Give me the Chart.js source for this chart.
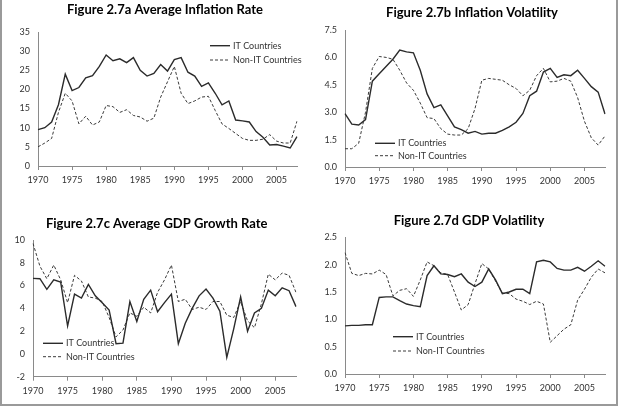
<!DOCTYPE html>
<html>
<head>
<meta charset="utf-8">
<script src="https://cdn.jsdelivr.net/npm/chart.js@4.4.1/dist/chart.umd.min.js"></script>
<style>
  html, body { margin: 0; padding: 0; background: #fff; }
  #page { position: relative; width: 620px; height: 407px; overflow: hidden; }
  #frame { position: absolute; left: 0; top: -4px; width: 614px; height: 406px; border: 2px solid #9a9a9a; }
  .panel { position: absolute; }
</style>
</head>
<body>
<div id="page">
  <div id="frame"></div>
  <div class="panel" style="left:0;top:0;width:310px;height:200px"><canvas id="chartA"></canvas></div>
  <div class="panel" style="left:310px;top:0;width:310px;height:200px"><canvas id="chartB"></canvas></div>
  <div class="panel" style="left:0;top:200px;width:310px;height:207px"><canvas id="chartC"></canvas></div>
  <div class="panel" style="left:310px;top:200px;width:310px;height:207px"><canvas id="chartD"></canvas></div>
</div>
<script>
const years = ['1970','1971','1972','1973','1974','1975','1976','1977','1978','1979',
               '1980','1981','1982','1983','1984','1985','1986','1987','1988','1989',
               '1990','1991','1992','1993','1994','1995','1996','1997','1998','1999',
               '2000','2001','2002','2003','2004','2005','2006','2007','2008'];

// Figure 2.7a Average Inflation Rate
const inflationIT = [9.5, 10, 11.5, 16, 24, 19.7, 20.5, 23, 23.6, 26,
                     29, 27.5, 28, 27, 28.3, 25, 23.5, 24.2, 26.5, 24.8,
                     27.8, 28.3, 24.5, 23.5, 20.8, 21.7, 19, 16, 17, 12,
                     11.8, 11.5, 9, 7.5, 5.5, 5.6, 5.2, 4.7, 7.7];
const inflationNonIT = [5, 6, 7.2, 14, 19, 17, 11, 13, 10.7, 11.5,
                        15.8, 15.5, 14, 14.7, 13.2, 12.8, 11.7, 12.5, 18, 22,
                        26, 19, 16.3, 17, 18, 18.2, 14.5, 11, 9.8, 8.5,
                        7.2, 6.7, 6.7, 7, 8.2, 6.5, 6, 6, 11.7];

// Figure 2.7b Inflation Volatility
const inflVolIT = [2.92, 2.35, 2.3, 2.6, 4.7, 5.1, 5.5, 5.9, 6.4, 6.3,
                   6.25, 5.3, 4.0, 3.25, 3.4, 2.8, 2.2, 2.05, 1.85, 1.95,
                   1.8, 1.85, 1.85, 2.0, 2.2, 2.45, 2.93, 3.9, 4.15, 5.2,
                   5.4, 4.9, 5.05, 5.0, 5.3, 4.85, 4.4, 4.1, 2.9];
const inflVolNonIT = [1.0, 1.0, 1.3, 3.0, 5.4, 6.05, 6.0, 5.9, 5.3, 4.6,
                      4.2, 3.5, 2.7, 2.65, 2.1, 1.8, 1.75, 1.75, 2.1, 3.2,
                      4.75, 4.85, 4.8, 4.75, 4.5, 4.3, 3.9, 4.2, 5.0, 5.4,
                      4.66, 4.7, 4.85, 4.7, 3.8, 2.5, 1.6, 1.2, 1.7];

// Figure 2.7c Average GDP Growth Rate
const gdpIT = [6.63, 6.6, 5.67, 6.5, 6.3, 2.45, 5.25, 4.9, 6.1, 5.1,
               4.5, 3.85, 0.9, 0.95, 4.6, 2.85, 4.8, 5.6, 3.7, 4.5,
               5.25, 0.9, 2.7, 4.0, 5.1, 5.7, 4.9, 3.75, -0.3, 2.2,
               5.0, 2.0, 3.6, 4.0, 5.6, 5.1, 5.8, 5.55, 4.15];
const gdpNonIT = [9.7, 7.7, 6.6, 7.8, 6.5, 4.5, 6.9, 6.4, 5.0, 4.9,
                  4.6, 3.2, 1.5, 2.1, 3.6, 3.3, 4.1, 3.6, 5.4, 6.5,
                  7.8, 4.6, 4.8, 3.9, 4.1, 3.9, 4.6, 4.6, 3.4, 3.2,
                  4.6, 2.9, 2.3, 4.4, 7.0, 6.5, 7.1, 6.9, 5.4];

// Figure 2.7d GDP Volatility
const gdpVolIT = [0.88, 0.89, 0.89, 0.9, 0.9, 1.4, 1.41, 1.41, 1.34, 1.28,
                  1.25, 1.23, 1.8, 1.98, 1.83, 1.82, 1.78, 1.83, 1.68, 1.6,
                  1.68, 1.92, 1.72, 1.47, 1.5, 1.55, 1.55, 1.47, 2.05, 2.08,
                  2.05, 1.93, 1.9, 1.9, 1.95, 1.88, 1.97, 2.07, 1.97];
const gdpVolNonIT = [2.22, 1.84, 1.8, 1.84, 1.83, 1.9, 1.82, 1.43, 1.53, 1.56,
                     1.42, 1.72, 2.05, 1.98, 1.85, 1.82, 1.5, 1.17, 1.27, 1.65,
                     2.02, 1.92, 1.7, 1.48, 1.47, 1.37, 1.33, 1.27, 1.33, 1.28,
                     0.58, 0.7, 0.82, 0.9, 1.35, 1.55, 1.77, 1.92, 1.85];

const seriesNames = ['IT Countries', 'Non-IT Countries'];

Chart.defaults.font.family = 'Lato, "Open Sans", sans-serif';
Chart.defaults.font.size = 9;
Chart.defaults.color = '#333';

// title + in-plot legend, drawn at fixed spots like the excel original
const panelText = {
    id: 'panelText',
    afterDraw(chart, args, opts) {
        const ctx = chart.ctx;
        ctx.save();
        ctx.fillStyle = '#000';
        ctx.font = 'bold 13px "Liberation Sans Narrow", Lato, sans-serif';
        ctx.textAlign = 'center';
        ctx.textBaseline = 'middle';
        ctx.fillText(opts.title, opts.titleX, opts.titleY);

        ctx.font = '9px Lato, sans-serif';
        ctx.textAlign = 'left';
        chart.data.datasets.forEach((ds, i) => {
            const y = opts.legendY[i];
            ctx.strokeStyle = ds.borderColor;
            ctx.lineWidth = ds.borderWidth;
            ctx.setLineDash(ds.borderDash || []);
            ctx.beginPath();
            ctx.moveTo(opts.legendX, y);
            ctx.lineTo(opts.legendX + 20, y);
            ctx.stroke();
            ctx.setLineDash([]);
            ctx.fillStyle = '#333';
            ctx.fillText(ds.label, opts.legendX + 23, y);
        });
        ctx.restore();
    }
};

function makePanel(id, size, box, text, itData, nonItData, yMin, yMax, yStep, decimals) {
    const ctx = document.getElementById(id).getContext('2d');
    return new Chart(ctx, {
        type: 'line',
        data: {
            labels: years,
            datasets: [{
                label: seriesNames[0],
                data: itData,
                borderColor: '#2b2b2b',
                borderWidth: 1.4,
                pointRadius: 0,
                tension: 0
            }, {
                label: seriesNames[1],
                data: nonItData,
                borderColor: '#3a3a3a',
                borderWidth: 1,
                borderDash: [3, 2],
                pointRadius: 0,
                tension: 0
            }]
        },
        options: {
            responsive: true,
            maintainAspectRatio: false,
            animation: false,
            layout: {
                padding: { left: 0, top: box.top, right: size.w - box.right, bottom: 0 }
            },
            plugins: {
                legend: { display: false },
                tooltip: { enabled: false },
                panelText: text
            },
            scales: {
                x: {
                    type: 'category',
                    offset: false,
                    afterFit: s => { s.height = size.h - box.bottom; },
                    border: { color: '#8a8a8a' },
                    grid: {
                        drawOnChartArea: false,
                        tickLength: 4,
                        tickColor: c => (c.index % 5 === 0 ? '#8a8a8a' : 'rgba(0,0,0,0)')
                    },
                    ticks: {
                        autoSkip: false,
                        maxRotation: 0,
                        padding: 5,
                        callback: (v, i) => (i % 5 === 0 ? years[i] : '')
                    }
                },
                y: {
                    min: yMin,
                    max: yMax,
                    afterFit: s => { s.width = box.left; },
                    border: { color: '#8a8a8a' },
                    grid: { drawOnChartArea: false, drawTicks: false },
                    ticks: {
                        stepSize: yStep,
                        padding: 8,
                        callback: v => v.toFixed(decimals)
                    }
                }
            }
        },
        plugins: [panelText]
    });
}

makePanel('chartA', { w: 310, h: 200 }, { left: 38, right: 297, top: 32, bottom: 166 },
    { title: 'Figure 2.7a Average Inflation Rate', titleX: 165, titleY: 10, legendX: 210, legendY: [45.7, 60] },
    inflationIT, inflationNonIT, 0, 35, 5, 0);

makePanel('chartB', { w: 310, h: 200 }, { left: 35, right: 295, top: 30, bottom: 167 },
    { title: 'Figure 2.7b Inflation Volatility', titleX: 162, titleY: 13.3, legendX: 65, legendY: [143.3, 155.7] },
    inflVolIT, inflVolNonIT, 0, 7.5, 1.5, 1);

makePanel('chartC', { w: 310, h: 207 }, { left: 33, right: 296, top: 40, bottom: 176.7 },
    { title: 'Figure 2.7c Average GDP Growth Rate', titleX: 156.7, titleY: 24, legendX: 43, legendY: [143.3, 156.7] },
    gdpIT, gdpNonIT, -2, 10, 2, 0);

makePanel('chartD', { w: 310, h: 207 }, { left: 35, right: 295, top: 37.3, bottom: 174 },
    { title: 'Figure 2.7d GDP Volatility', titleX: 159, titleY: 20.7, legendX: 83, legendY: [136.7, 151] },
    gdpVolIT, gdpVolNonIT, 0, 2.5, 0.5, 1);
</script>
</body>
</html>
